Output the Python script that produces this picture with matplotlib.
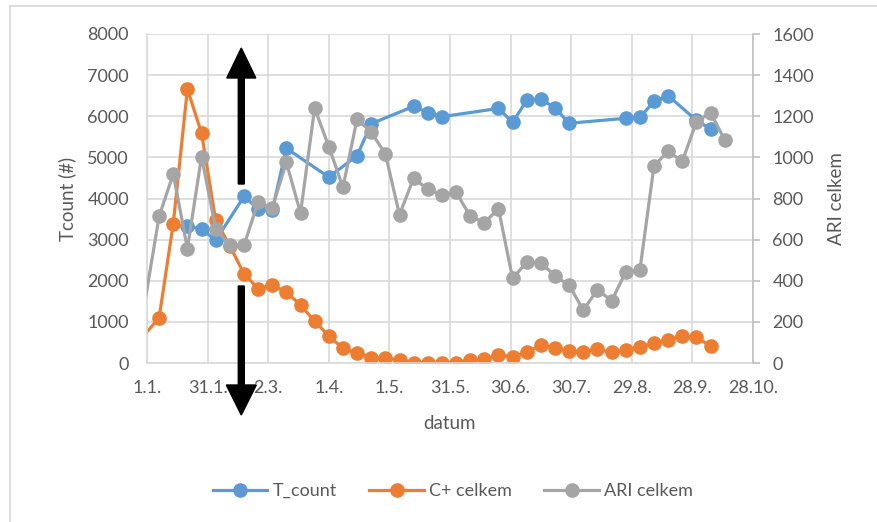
import matplotlib
matplotlib.use("Agg")
import matplotlib.pyplot as plt
import pandas as pd
import numpy as np
from matplotlib.patches import FancyArrow
from matplotlib.lines import Line2D

plt.rcParams['font.family'] = ['Lato', 'DejaVu Sans']

# weekly sampling dates
dates = ["2017-12-31", "2018-01-07", "2018-01-14", "2018-01-21", "2018-01-28",
         "2018-02-04", "2018-02-11", "2018-02-18", "2018-02-25", "2018-03-04",
         "2018-03-11", "2018-03-18", "2018-03-25", "2018-04-01", "2018-04-08",
         "2018-04-15", "2018-04-22", "2018-04-29", "2018-05-06", "2018-05-13",
         "2018-05-20", "2018-05-27", "2018-06-03", "2018-06-10", "2018-06-17",
         "2018-06-24", "2018-07-01", "2018-07-08", "2018-07-15", "2018-07-22",
         "2018-07-29", "2018-08-05", "2018-08-12", "2018-08-19", "2018-08-26",
         "2018-09-02", "2018-09-09", "2018-09-16", "2018-09-23", "2018-09-30",
         "2018-10-07", "2018-10-14"]

t_count = [None, None, None, 3320, 3265,
           2980, None, 4050, 3750, 3710,
           5220, None, None, 4520, None,
           5040, 5820, None, None, 6240,
           6090, 5990, None, None, None,
           6190, 5850, 6390, 6420, 6200,
           5830, None, None, None, 5950,
           5970, 6360, 6500, None, 5900,
           5690, None]

c_plus = [700, 1100, 3390, 6660, 5590,
          3470, 2850, 2170, 1810, 1890,
          1730, 1406, 1018, 655, 356,
          235, 130, 113, 73, 10,
          10, 10, 10, 73, 89,
          194, 153, 259, 436, 356,
          299, 259, 331, 259, 315,
          396, 477, 558, 663, 623,
          412, None]

ari = [300, 713, 920, 556, 1004,
       653, 572, 572, 782, 755,
       976, 729, 1240, 1052, 855,
       1186, 1122, 1017, 721, 900,
       844, 819, 831, 714, 682,
       750, 411, 491, 488, 423,
       378, 257, 357, 302, 443,
       451, 960, 1029, 981, 1173,
       1218, 1084]

tick_dates = ["2018-01-01", "2018-01-31", "2018-03-02", "2018-04-01", "2018-05-01",
              "2018-05-31", "2018-06-30", "2018-07-30", "2018-08-29", "2018-09-28",
              "2018-10-28"]
tick_labels = ["1.1.", "31.1.", "2.3.", "1.4.", "1.5.", "31.5.", "30.6.",
               "30.7.", "29.8.", "28.9.", "28.10."]

df = pd.DataFrame({"datum": pd.to_datetime(dates),
                   "T_count": pd.array(t_count, dtype="Float64"),
                   "C+ celkem": pd.array(c_plus, dtype="Float64"),
                   "ARI celkem": pd.array(ari, dtype="Float64")})

ticks = pd.to_datetime(tick_dates)
txt = '#595959'
grid_c = '#d9d9d9'
fs = 13

fig = plt.figure(figsize=(8.77, 5.22), dpi=100)
ax = fig.add_axes([147/877, 1-363/522, (753-147)/877, (363-34)/522])
ax2 = ax.twinx()


def draw(axis, col, color):
    s = df[["datum", col]].dropna()
    # no markers for points before the axis start
    shown = [i for i, d in enumerate(s["datum"]) if d >= ticks[0]]
    line, = axis.plot(s["datum"], s[col].astype(float), color=color, label=col,
                      lw=2.3, marker='o', markersize=9.5, markevery=shown)
    return line


l1 = draw(ax, "T_count", '#5B9BD5')
l2 = draw(ax, "C+ celkem", '#ED7D31')
l3 = draw(ax2, "ARI celkem", '#A5A5A5')

ax.set_xlim(ticks[0], ticks[-1])
ax.set_xticks(ticks)
ax.set_xticklabels(tick_labels)
ax.set_ylim(0, 8000)
ax.set_yticks(np.arange(0, 8001, 1000))
ax2.set_ylim(0, 1600)
ax2.set_yticks(np.arange(0, 1601, 200))

ax.grid(True, color=grid_c, lw=1.2)
ax.set_axisbelow(True)
for sp in ['top', 'right']:
    ax.spines[sp].set_visible(False)
for sp in ['left', 'bottom']:
    ax.spines[sp].set_color(grid_c)
    ax.spines[sp].set_linewidth(1.2)
for sp in ['top', 'left', 'bottom']:
    ax2.spines[sp].set_visible(False)
ax2.spines['right'].set_color('#bfbfbf')
ax2.spines['right'].set_linewidth(1.2)

ax.tick_params(axis='x', length=0, pad=12, labelsize=fs, labelcolor=txt)
ax.tick_params(axis='y', length=0, pad=13, labelsize=fs, labelcolor=txt)
ax2.tick_params(axis='y', length=5, width=1.2, color='#bfbfbf', pad=9,
                labelsize=fs, labelcolor=txt)

ax.set_xlabel('datum', fontsize=fs + 0.5, color=txt, labelpad=14)
ax.set_ylabel('Tcount (#)', fontsize=fs + 0.5, color=txt, labelpad=8)
ax2.set_ylabel('ARI celkem', fontsize=fs + 0.5, color=txt, labelpad=10)

fig.legend(handles=[l1, l2, l3], loc='center', bbox_to_anchor=(453/877, 1-491/522),
           ncol=3, frameon=False, fontsize=fs, labelcolor=txt, handlelength=3,
           columnspacing=1.8, handletextpad=0.3)

# black arrows in pixel units
def px(x, y):
    return x / 100, (522 - y) / 100

x0, y0 = px(241.3, 184)
_, y1 = px(241.3, 48)
fig.add_artist(FancyArrow(x0, y0, 0, y1 - y0, width=0.06, head_width=0.29,
                          head_length=0.30, length_includes_head=True,
                          color='black', transform=fig.dpi_scale_trans))
x0, y0 = px(241.3, 286)
_, y1 = px(241.3, 415)
fig.add_artist(FancyArrow(x0, y0, 0, y1 - y0, width=0.06, head_width=0.30,
                          head_length=0.30, length_includes_head=True,
                          color='black', transform=fig.dpi_scale_trans))

# outer frame (left and top edges)
fig.add_artist(Line2D([10/877, 10/877], [0, 1-6/522], color=grid_c, lw=1.2))
fig.add_artist(Line2D([10/877, 1], [1-6/522, 1-6/522], color=grid_c, lw=1.2))

fig.savefig('out.png', dpi=100)
